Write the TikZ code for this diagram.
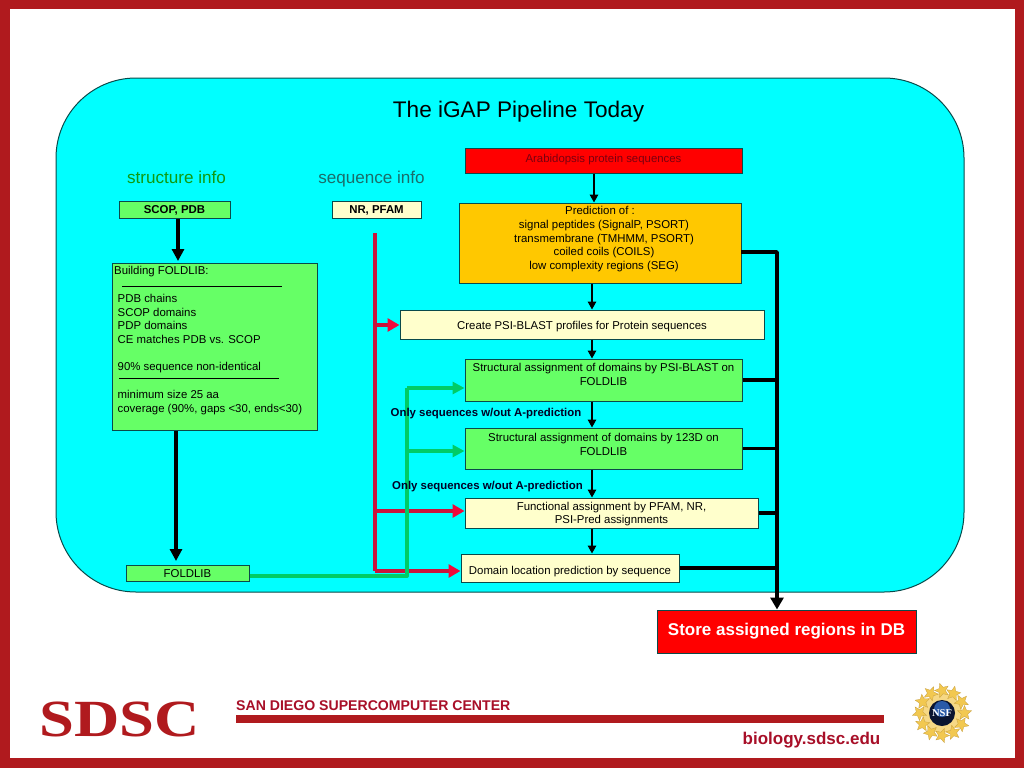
\documentclass[tikz,border=0pt]{standalone}
\usepackage{fontspec}
\setmainfont{Liberation Sans}
\newfontfamily\logofont{Liberation Serif}
\usetikzlibrary{arrows.meta,shapes.geometric,calc}
\definecolor{framered}{HTML}{B01A1E}
\definecolor{textred}{HTML}{A80F28}
\definecolor{panel}{HTML}{00FFFF}
\definecolor{edge}{HTML}{0A4A4A}
\definecolor{cream}{HTML}{FFFFCC}
\definecolor{leaf}{HTML}{66FF66}
\definecolor{amber}{HTML}{FFC800}
\definecolor{pure}{HTML}{FF0000}
\definecolor{lineRed}{HTML}{C8143C}
\definecolor{tipRed}{HTML}{F0083A}
\definecolor{lineGreen}{HTML}{00CC66}
\definecolor{infogreen}{HTML}{109A10}
\definecolor{infoteal}{HTML}{1A6E6A}
\definecolor{darkred}{HTML}{7A0010}
\definecolor{gold}{HTML}{F2C850}
\definecolor{goldedge}{HTML}{C8A040}
\definecolor{sealblue}{HTML}{2A5AA8}
\definecolor{sealdark}{HTML}{0A1430}
\newcommand{\boxfont}{\fontsize{11.4}{13.7}\selectfont}
\newcommand{\labelfont}{\fontsize{11.4}{13}\selectfont\bfseries}
\newcommand{\dropline}[2]{\raisebox{-#1pt}[0pt][0pt]{#2}}
\newcommand{\rightnudge}{\hspace*{8pt}}
\tikzset{
  box/.style={draw=edge,line width=1pt,inner sep=0pt,align=center,font=\boxfont},
  side/.style={font=\fontsize{17.1}{19}\selectfont,inner sep=0pt,anchor=base},
  plain/.style={inner sep=0pt,align=left,font=\boxfont,anchor=north west},
  note/.style={inner sep=0pt,font=\labelfont,text=black!85!blue},
  thin arrow/.style={draw=black,line width=1.5pt,-{Triangle[length=8pt,width=8.5pt]}},
  thick arrow/.style={draw=black,line width=4pt,-{Triangle[length=12pt,width=12pt]}},
  bus/.style={draw=black,line width=3.8pt},
  red line/.style={draw=lineRed,line width=3.8pt},
  red arrow/.style={red line,-{Triangle[length=12pt,width=13pt,color=tipRed]}},
  green line/.style={draw=lineGreen,line width=4pt},
  green arrow/.style={green line,-{Triangle[length=12pt,width=12pt]}},
  foot/.style={inner sep=0pt,text=textred,font=\bfseries},
  sealstar/.style={star,star points=5,star point ratio=2.2,fill=gold,draw=goldedge,line width=.3pt,minimum size=15pt,inner sep=0pt}
}
\begin{document}
\begin{tikzpicture}[x=1pt,y=-1pt]
\useasboundingbox (0,0) rectangle (1024,768);
\fill[white] (0,0) rectangle (1024,768);
% slide frame
\draw[framered,line width=9.5pt] (4.75,4.25) rectangle (1019.25,762.75);
% panel
\draw[fill=panel,draw=edge,line width=1pt,rounded corners=80pt] (56,78) rectangle (964,592);
\node[inner sep=0pt,font=\fontsize{22.6}{25}\selectfont,anchor=base] (title) at (518.5,117) {The iGAP Pipeline Today};
\node[side,text=infogreen] (structinfo) at (176.5,183) {structure info};
\node[side,text=infoteal] (seqinfo) at (371.5,183) {sequence info};
% boxes
\node[box,fill=pure,text=darkred,minimum width=277pt,minimum height=25pt] (arab) at (603.5,160.5) {Arabidopsis protein sequences\\[-9pt]\mbox{}};
\node[box,fill=amber,minimum width=282pt,minimum height=80pt] (pred) at (600,243) {Prediction of :\\\rightnudge signal peptides (SignalP, PSORT)\\\rightnudge transmembrane (TMHMM, PSORT)\\\rightnudge coiled coils (COILS)\\\rightnudge low complexity regions (SEG)\\[-4pt]\mbox{}};
\node[box,fill=cream,minimum width=364pt,minimum height=29pt] (psi) at (582,324.5) {\dropline{4.5}{Create PSI-BLAST profiles for Protein sequences}};
\node[box,fill=leaf,minimum width=277pt,minimum height=42pt] (sa) at (603.5,380) {Structural assignment of domains by PSI-BLAST on\\FOLDLIB\\[-3pt]\mbox{}};
\node[box,fill=leaf,minimum width=277pt,minimum height=41pt] (sb) at (603.5,448.5) {Structural assignment of domains by 123D on\\FOLDLIB\\[-6pt]\mbox{}};
\node[box,fill=cream,minimum width=293pt,minimum height=30pt] (func) at (611.5,513) {\dropline{4}{Functional assignment by PFAM, NR,}\\\dropline{4}{PSI-Pred assignments}};
\node[box,fill=cream,minimum width=218pt,minimum height=28pt] (dom) at (570,568) {\dropline{6}{Domain location prediction by sequence}};
\node[box,fill=pure,text=white,font=\fontsize{17}{19}\selectfont\bfseries,minimum width=259pt,minimum height=43pt] (store) at (786.5,631.5) {Store assigned regions in DB\\[-15pt]\mbox{}};
\node[box,fill=leaf,font=\labelfont,minimum width=111pt,minimum height=17pt] (scop) at (174.5,209.5) {\dropline{4}{SCOP, PDB}};
\node[box,fill=cream,font=\labelfont,minimum width=89pt,minimum height=17pt] (nr) at (376.5,209.5) {\dropline{4}{NR, PFAM}};
\node[box,fill=leaf,minimum width=205pt,minimum height=167pt] (build) at (214.5,346.5) {};
\node[box,fill=leaf,minimum width=123pt,minimum height=16pt] (fold) at (187.5,573) {\dropline{4}{FOLDLIB}};
% text of the FOLDLIB box
\node[plain] (bh) at (114,266) {Building FOLDLIB:};
\node[plain] (bb) at (117.5,294) {PDB chains\\SCOP domains\\PDP domains\\CE matches PDB vs. SCOP\\[13.7pt]90\% sequence non-identical\\[13.7pt]minimum size 25 aa\\coverage (90\%, gaps <30, ends<30)};
\coordinate (r1a) at (122,286); \coordinate (r1b) at (282,286);
\coordinate (r2a) at (119,378); \coordinate (r2b) at (279,378);
\draw[black,line width=1pt] (r1a) -- (r1b);
\draw[black,line width=1pt] (r2a) -- (r2b);
% helper coordinates
\coordinate (pa) at (594,0);
\coordinate (pb) at (592,0);
\coordinate (busx) at (777,0);
\coordinate (rv) at (375,233);
\coordinate (rb) at (375,571);
\coordinate (rf) at (375,511);
\coordinate (rp) at (375,325);
\coordinate (gv) at (407,576);
\coordinate (ga) at (407,388);
\coordinate (gb) at (407,451);
\coordinate (tl) at (178,0);
\coordinate (tm) at (176,0);
\coordinate (predout) at (741,252);
\coordinate (bustop) at (777,252);
\coordinate (nearb) at (178,261);
\coordinate (nearf) at (176,561);
\coordinate (neart) at (464.5,0);
\coordinate (neard) at (460.5,0);
% vertical flow
\draw[thin arrow] (arab.south -| pa) -- (pred.north -| pa);
\draw[thin arrow] (pred.south -| pb) -- (psi.north -| pb);
\draw[thin arrow] (psi.south -| pb) -- (sa.north -| pb);
\draw[thin arrow] (sa.south -| pb) -- (sb.north -| pb);
\draw[thin arrow] (sb.south -| pb) -- (func.north -| pb);
\draw[thin arrow] (func.south -| pb) -- (dom.north -| pb);
% thick black
\draw[thick arrow] (scop.south -| tl) -- (nearb);
\draw[thick arrow] (build.south -| tm) -- (nearf);
% red lines
\draw[red line] (rv) -- (rb);
\draw[red arrow] (rp) -- (rp -| psi.west);
\draw[red arrow] (rf) -- (rf -| neart);
\draw[red arrow] (rb) -- (rb -| neard);
% green lines
\draw[green line,line join=round] (fold.east |- gv) -- (gv) -- (ga);
\draw[green arrow] (ga) -- (ga -| neart);
\draw[green arrow] (gb) -- (gb -| neart);
% black bus
\draw[bus,line join=round,-{Triangle[length=12pt,width=13pt]}] (predout) -- (bustop) -- (store.north -| busx);
\draw[bus] (sa.east) -- (sa.east -| busx);
\draw[bus] (sb.east) -- (sb.east -| busx);
\draw[bus] (func.east) -- (func.east -| busx);
\draw[bus] (dom.east) -- (dom.east -| busx);
% notes
\node[note] (n1) at (486,414) {Only sequences w/out A-prediction};
\node[note] (n2) at (487.5,486.5) {Only sequences w/out A-prediction};
% footer
\node[inner sep=0pt,text=framered,font=\logofont\fontsize{58}{60}\selectfont\bfseries,xscale=1.08,yscale=.9] (sdsc) at (119.5,719) {SDSC};
\node[foot,anchor=west,font=\fontsize{14.1}{16}\selectfont\bfseries] (sdcc) at (236,705.5) {SAN DIEGO SUPERCOMPUTER CENTER};
\fill[framered] (236,715) rectangle (884,723);
\node[foot,anchor=east,font=\fontsize{17}{19}\selectfont\bfseries] (bio) at (880.5,740) {biology.sdsc.edu};
% NSF seal
\coordinate (seal) at (942,713);
\fill[gold!70!white] (seal) circle (20pt);
\foreach \a in {0,30,...,330}{
  \node[sealstar,rotate=\a] at ($(seal)+(\a:22.5pt)$) {};
}
\fill[sealdark] (seal) circle (13pt);
\fill[sealblue] ($(seal)+(0,-4)$) circle (8pt);
\node[inner sep=0pt,text=white,font=\logofont\fontsize{10.5}{11}\selectfont\bfseries] (nsf) at (seal) {NSF};
\end{tikzpicture}
\end{document}
